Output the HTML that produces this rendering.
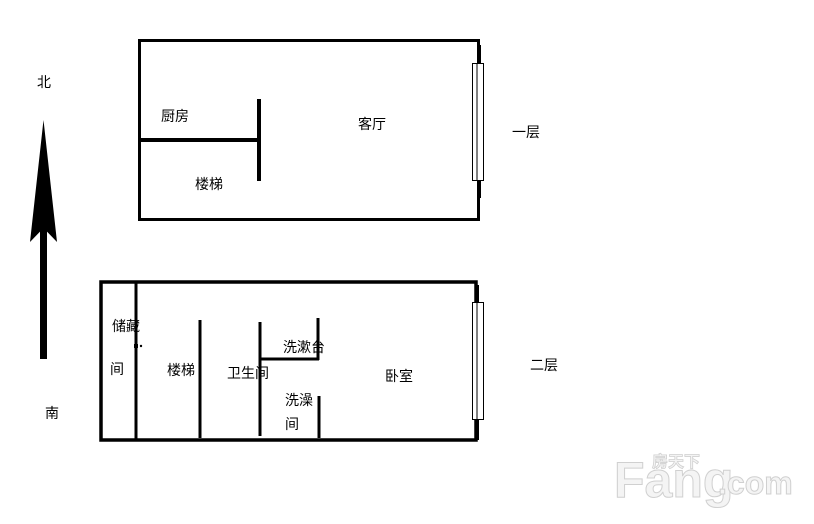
<!DOCTYPE html>
<html><head><meta charset="utf-8"><style>
body{margin:0;width:814px;height:519px;background:#fff;overflow:hidden;}
svg text{font-family:"Liberation Sans","Noto Sans CJK SC",sans-serif;font-size:14px;fill:#000;}
</style></head><body>
<svg width="814" height="519" xmlns="http://www.w3.org/2000/svg">
<g fill="none" stroke="#000">
<rect x="139.5" y="40.5" width="339" height="179" stroke-width="3"/>
<line x1="479" y1="45" x2="479" y2="198" stroke-width="4"/>
<line x1="139" y1="140" x2="260" y2="140" stroke-width="4"/>
<line x1="259" y1="99" x2="259" y2="181" stroke-width="4"/>
<rect x="472.5" y="63.5" width="11" height="117" fill="#fff" stroke-width="1"/>
<line x1="477" y1="64" x2="477" y2="180" stroke-width="1"/>

<rect x="101" y="282" width="375" height="158" stroke-width="3.5"/>
<line x1="477" y1="285" x2="477" y2="440" stroke-width="4"/>
<line x1="136" y1="282" x2="136" y2="441" stroke-width="3"/>
<line x1="200" y1="320" x2="200" y2="438" stroke-width="3"/>
<line x1="260" y1="322" x2="260" y2="436" stroke-width="3"/>
<line x1="318" y1="318" x2="318" y2="360" stroke-width="3"/>
<line x1="259" y1="359" x2="319" y2="359" stroke-width="3"/>
<line x1="319" y1="396" x2="319" y2="438" stroke-width="3"/>
<rect x="472.5" y="302.5" width="11" height="117" fill="#fff" stroke-width="1"/>
<line x1="477" y1="303" x2="477" y2="419" stroke-width="1"/>
</g>
<rect x="134" y="344" width="4" height="4" fill="#000"/>
<circle cx="141" cy="346" r="1.2" fill="#000"/>

<rect x="40" y="200" width="7" height="159" fill="#000"/>
<polygon points="43.5,120 57,242 43.5,228 30,242" fill="#000"/>

<text x="37" y="87">北</text>
<text x="45" y="418">南</text>
<text x="161" y="121">厨房</text>
<text x="195" y="189">楼梯</text>
<text x="358" y="129">客厅</text>
<text x="512" y="137">一层</text>
<text x="112" y="331">储藏</text>
<text x="110" y="374">间</text>
<text x="167" y="375">楼梯</text>
<text x="227" y="378">卫生间</text>
<text x="283" y="352">洗漱台</text>
<text x="285" y="405">洗澡</text>
<text x="285" y="429">间</text>
<text x="385" y="381">卧室</text>
<text x="530" y="370">二层</text>
<text x="614" y="497" style="font-size:50px;font-weight:bold;fill:#f4f4f4;stroke:#d0d0d0;stroke-width:1">Fang</text>
<text x="718" y="494" style="font-size:32px;font-weight:bold;fill:#f4f4f4;stroke:#d0d0d0;stroke-width:1">.com</text>
<text x="652" y="467" style="font-size:16px;font-weight:bold;fill:#f4f4f4;stroke:#d0d0d0;stroke-width:0.8">房天下</text>
</svg>
</body></html>
